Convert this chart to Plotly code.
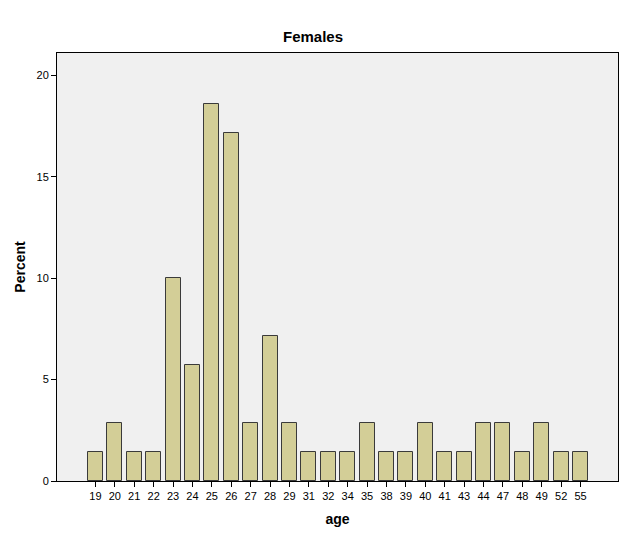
import plotly.graph_objects as go

ages = ["19","20","21","22","23","24","25","26","27","28","29","31","32","34","35",
        "38","39","40","41","43","44","47","48","49","52","55"]
counts = [1,2,1,1,7,4,13,12,2,5,2,1,1,1,2,1,1,2,1,1,2,2,1,2,1,1]
total = sum(counts)
percent = [c / total * 100 for c in counts]
y_ticks = [0, 5, 10, 15, 20]

fig = go.Figure()
fig.add_trace(go.Bar(
    x=list(range(len(ages))), y=percent, width=0.77,
    marker=dict(color="#D3CE97", line=dict(color="#3a3a3a", width=1)),
))
font = "Liberation Sans, Arial, sans-serif"
fig.update_layout(
    width=626, height=541,
    margin=dict(l=57, r=8, t=53, b=60),
    paper_bgcolor="white", plot_bgcolor="#F0F0F0",
    font=dict(family=font, size=11, color="black"),
    title=dict(text="<b>Females</b>", x=0.5, xanchor="center", y=1 - 37/541, yanchor="middle",
               font=dict(size=15, family=font)),
    showlegend=False,
    bargap=0,
)
fig.update_xaxes(
    range=[-1.98, 26.93],
    tickmode="array", tickvals=list(range(len(ages))), ticktext=ages,
    ticks="outside", ticklen=5, tickcolor="black",
    showline=True, linecolor="black", mirror=True, showgrid=False, zeroline=False,
    title=dict(text="<b>age</b>", font=dict(size=14), standoff=12),
    tickfont=dict(size=11),
)
fig.update_yaxes(
    range=[0, 21.1],
    tickmode="array", tickvals=y_ticks,
    ticks="outside", ticklen=5, tickcolor="black",
    showline=True, linecolor="black", mirror=True, showgrid=False, zeroline=False,
    title=dict(text="<b>Percent</b>", font=dict(size=14), standoff=7),
    tickfont=dict(size=11),
)
fig.write_html("out.html")
